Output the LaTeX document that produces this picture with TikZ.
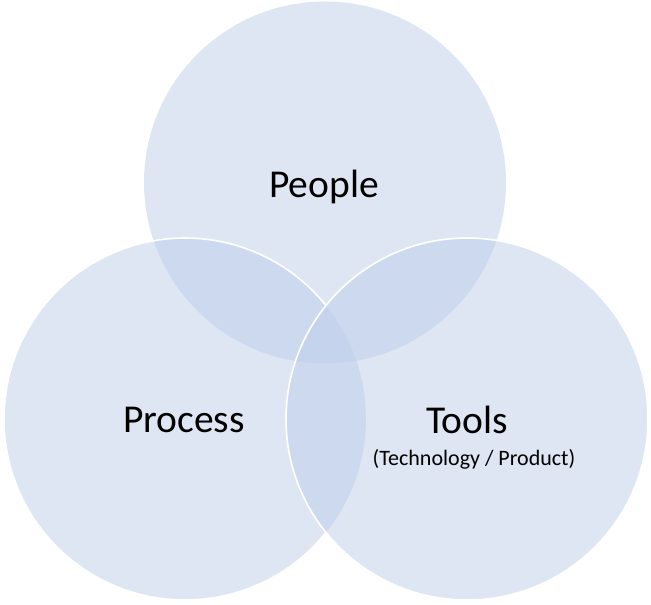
\documentclass[tikz,border=0pt]{standalone}
\usepackage{fontspec}
\setmainfont{Carlito}
\definecolor{venn}{RGB}{189,205,233}
\tikzset{
  setfill/.style={fill=venn, fill opacity=0.5, draw=none},
  rim/.style={draw=white, line width=1.6pt},
  bigtext/.style={font=\fontsize{39.5}{46}\selectfont, text=black, anchor=base, inner sep=0pt},
  smalltext/.style={font=\fontsize{22}{26}\selectfont, text=black, anchor=base, inner sep=0pt}
}
\begin{document}
\begin{tikzpicture}[x=1pt,y=-1pt]
\useasboundingbox (0,0) rectangle (651,605);
\coordinate (ctop) at (325,182.5);
\coordinate (cleft) at (185,419);
\coordinate (cright) at (467,419);
\fill[setfill] (ctop) circle (181);
\fill[setfill] (cleft) circle (181);
\fill[setfill] (cright) circle (181);
\draw[rim] (cleft) ++(38.8:181) arc[start angle=38.8, end angle=321.2, radius=181];
\draw[rim] (cright) circle (181);
\node[bigtext] (people) at (324,197) {People};
\node[bigtext] (process) at (184,432) {Process};
\node[bigtext] (tools) at (467,433) {Tools};
\node[smalltext] (sub) at (474,465) {(Technology / Product)};
\end{tikzpicture}
\end{document}
